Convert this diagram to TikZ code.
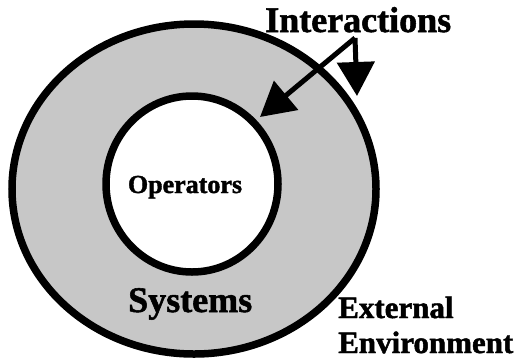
\documentclass[tikz,border=0pt]{standalone}
\usepackage{fontspec}
\setmainfont{Liberation Serif}[BoldFeatures={FakeBold=1.5}]
\usetikzlibrary{arrows.meta}
\begin{document}
\begin{tikzpicture}[x=1pt,y=-1pt,
  ring/.style={draw=black,line width=7.5pt},
  label/.style={inner sep=0pt},
  flow/.style={line width=5pt,-{Triangle[length=34pt,width=37pt]}}]
  \useasboundingbox (0,0) rectangle (518,360);
  % outer region: the systems layer
  \draw[ring,fill=black!22] (194,189) ellipse [x radius=182,y radius=165];
  % inner region: the operators
  \draw[ring,fill=white] (192,184) ellipse [x radius=86,y radius=88];
  \node[label,font=\bfseries\fontsize{26}{28}\selectfont,anchor=base] (ops) at (185,193) {Operators};
  \node[label,font=\bfseries\fontsize{36}{38}\selectfont,anchor=base west] (sys) at (128,312) {Systems};
  \node[label,font=\bfseries\fontsize{36}{38}\selectfont,anchor=base west] (inter) at (265,32) {Interactions};
  \node[label,font=\bfseries\fontsize{31}{33}\selectfont,anchor=base west] (ext) at (338,318) {External};
  \node[label,font=\bfseries\fontsize{31}{33}\selectfont,anchor=base west] (env) at (338,353) {Environment};
  % interaction arrows
  \coordinate (hub) at (355,38);
  \coordinate (intip) at (260,117);
  \coordinate (outtip) at (357,96);
  \draw[flow] (hub) -- (intip);
  \draw[flow] (hub) -- (outtip);
\end{tikzpicture}
\end{document}
